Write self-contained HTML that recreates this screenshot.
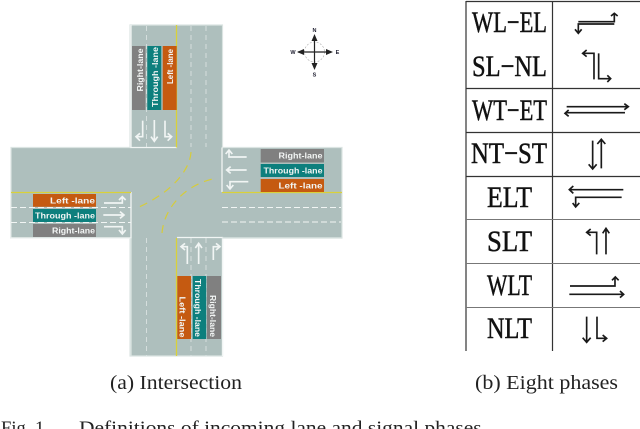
<!DOCTYPE html>
<html><head><meta charset="utf-8"><style>
html,body{margin:0;padding:0;background:#fff}
svg{display:block}
.l{font-family:"Liberation Sans",sans-serif;font-weight:bold;font-size:8.5px;fill:#f2f5f4}
.t{font-family:"Liberation Serif",serif;font-size:30px;fill:#111;stroke:#111;stroke-width:.5}
.c{font-family:"Liberation Serif",serif;font-size:20.5px;fill:#222}
.w{fill:none;stroke:#f1f5f4;stroke-width:5}
.k{fill:none;stroke:#1a1a1a;stroke-width:5}
</style></head><body>
<svg width="640" height="429" viewBox="0 0 640 429" xmlns="http://www.w3.org/2000/svg">
<rect width="640" height="429" fill="#fff"/>
<!-- road -->
<path d="M130 25H222.500V147.500H342V238H222.500V356H130V238H11V147.500H130Z" fill="#aebfbd" stroke="#dbe4e2" stroke-width="1.200"/>
<!-- white edges -->
<g fill="none" stroke="#f1f5f4" stroke-width="1.300">
<path d="M131 25V147.500H177"/>
<path d="M11 238H131V192"/>
<path d="M131 238V356" stroke="#dbe4e2"/>
<path d="M177 237.500H222.500V356"/>
<path d="M222 147.500V192"/>
<path d="M222 238H342" stroke="#dbe4e2"/>
</g>
<!-- dashes -->
<g fill="none" stroke="#dfe7e5" stroke-width="0.800" stroke-dasharray="5 4">
<path d="M146.500 26V147M191 26V147M206 26V147"/>
<path d="M146.500 238V356M191 238V356M206 238V356"/>
</g>
<g fill="none" stroke="#f1f5f4" stroke-width="0.900" stroke-dasharray="6 3">
<path d="M11 207.500H131M11 222.500H131"/>
<path d="M222 207.500H341M222 222H341"/>
</g>
<!-- yellow -->
<g fill="none" stroke="#d9d13a" stroke-width="1.300">
<path d="M176.500 25V147.500M176.500 238V356M11 192.500H131M222 192.500H342"/>
</g>
<g fill="none" stroke="#d6cc3a" stroke-width="1.200" stroke-dasharray="8 6">
<path d="M191 152C190 170 172 192 139 207"/>
<path d="M162 233C164 208 185 184 217 178"/>
</g>
<!-- top arm -->
<rect x="132" y="46" width="13.500" height="64" fill="#808080"/>
<rect x="147.300" y="46" width="14" height="64" fill="#0d7f7d"/>
<rect x="162.700" y="46" width="14" height="64" fill="#c55a11"/>
<text class="l" transform="translate(143 70) rotate(-90)" text-anchor="middle" textLength="43" lengthAdjust="spacingAndGlyphs">Right-lane</text>
<text class="l" transform="translate(158 77) rotate(-90)" text-anchor="middle" textLength="60" lengthAdjust="spacingAndGlyphs">Through -lane</text>
<text class="l" transform="translate(173 66.500) rotate(-90)" text-anchor="middle" textLength="35" lengthAdjust="spacingAndGlyphs">Left -lane</text>
<!-- left arm -->
<rect x="33" y="194" width="63" height="12.800" fill="#c55a11"/>
<rect x="33" y="209" width="63" height="13" fill="#0d7f7d"/>
<rect x="33" y="224" width="63" height="13" fill="#808080"/>
<text class="l" x="95" y="203.500" text-anchor="end" textLength="45" lengthAdjust="spacingAndGlyphs">Left -lane</text>
<text class="l" x="95" y="218.500" text-anchor="end" textLength="60" lengthAdjust="spacingAndGlyphs">Through -lane</text>
<text class="l" x="95" y="233.500" text-anchor="end" textLength="43" lengthAdjust="spacingAndGlyphs">Right-lane</text>
<!-- right arm -->
<rect x="260.700" y="149" width="63.300" height="13.500" fill="#808080"/>
<rect x="260.700" y="164" width="63.300" height="13" fill="#0d7f7d"/>
<rect x="260.700" y="179" width="63.300" height="13" fill="#c55a11"/>
<text class="l" x="322.500" y="158.700" text-anchor="end" textLength="44" lengthAdjust="spacingAndGlyphs">Right-lane</text>
<text class="l" x="322.500" y="173.500" text-anchor="end" textLength="59" lengthAdjust="spacingAndGlyphs">Through -lane</text>
<text class="l" x="322.500" y="188.500" text-anchor="end" textLength="44" lengthAdjust="spacingAndGlyphs">Left -lane</text>
<!-- bottom arm -->
<rect x="177.300" y="276" width="13.700" height="63" fill="#c55a11"/>
<rect x="192.700" y="276" width="13.500" height="63" fill="#0d7f7d"/>
<rect x="207" y="276" width="14" height="63" fill="#808080"/>
<text class="l" transform="translate(179.500 317) rotate(90)" text-anchor="middle" textLength="41" lengthAdjust="spacingAndGlyphs">Left -lane</text>
<text class="l" transform="translate(195 308) rotate(90)" text-anchor="middle" textLength="58" lengthAdjust="spacingAndGlyphs">Through -lane</text>
<text class="l" transform="translate(210 316) rotate(90)" text-anchor="middle" textLength="42" lengthAdjust="spacingAndGlyphs">Right-lane</text>
<!-- road arrows -->
<g transform="translate(120 20) scale(.3333)" class="w">
<path d="M68 302V350H50M60 340L48 350L60 362"/>
<path d="M103 300V362M93 350L103 364L113 350"/>
<path d="M135 302V350H153M143 340L155 350L143 362"/>
</g>
<g transform="translate(120 230) scale(.3333)" class="w">
<path d="M202 102V50H185M195 40L183 50L195 60"/>
<path d="M236 102V42M226 54L236 40L246 54"/>
<path d="M280 90V50H297M288 40L300 50L288 60"/>
</g>
<g transform="translate(0 140) scale(.3333)" class="w">
<path d="M312 189H367V172M357 180L367 170L377 180"/>
<path d="M310 225H370M360 215L372 225L360 235"/>
<path d="M312 260H367V280M357 270L367 282L377 270"/>
</g>
<g transform="translate(170 140) scale(.3333)" class="w">
<path d="M230 51H177V32M167 42L177 30L187 42"/>
<path d="M230 90H172M182 80L170 90L182 100"/>
<path d="M235 125H180V145M170 135L180 147L190 135"/>
</g>
<!-- compass -->
<g stroke="#222" fill="#222">
<circle cx="314.500" cy="52" r="10" fill="none" stroke="#aaa" stroke-width=".6" stroke-dasharray="2 1.500"/>
<path d="M314.500 38V66M298 52H331" stroke-width="1.200"/>
<path d="M314.500 34L311.500 41H317.500ZM314.500 70L311.500 63H317.500ZM297 52L304 49V55ZM333 52L326 49V55Z" stroke="none"/>
</g>
<g font-family="Liberation Sans,sans-serif" font-size="5.500" font-weight="bold" text-anchor="middle" fill="#223">
<text x="314.500" y="32">N</text><text x="314.500" y="76.500">S</text><text x="293" y="54">W</text><text x="337.500" y="54">E</text>
</g>
<!-- table -->
<g fill="none" stroke="#333" stroke-width="1.200">
<path d="M466 1V351M552.500 1V351"/>
<path d="M466 1.500H640M466 88.500H640M466 132.500H640M466 176.500H640"/>
</g>
<g fill="none" stroke="#777" stroke-width="1">
<path d="M466 219.500H640M466 263.500H640M466 307.500H640"/>
</g>
<text class="t" x="472" y="32" textLength="75" lengthAdjust="spacingAndGlyphs">WL−EL</text>
<text class="t" x="472" y="76" textLength="75" lengthAdjust="spacingAndGlyphs">SL−NL</text>
<text class="t" x="472" y="120" textLength="75" lengthAdjust="spacingAndGlyphs">WT−ET</text>
<text class="t" x="471" y="163" textLength="76" lengthAdjust="spacingAndGlyphs">NT−ST</text>
<text class="t" x="487" y="207" textLength="45" lengthAdjust="spacingAndGlyphs">ELT</text>
<text class="t" x="487" y="251" textLength="45" lengthAdjust="spacingAndGlyphs">SLT</text>
<text class="t" x="487" y="295" textLength="45" lengthAdjust="spacingAndGlyphs">WLT</text>
<text class="t" x="487" y="338" textLength="45" lengthAdjust="spacingAndGlyphs">NLT</text>
<!-- phase arrows -->
<g transform="translate(460 0) scale(.3333)" class="k">
<path d="M355 65H463V42M453 48L463 40L473 48"/>
<path d="M463 72H355V98M345 88L355 100L365 88"/>
<path d="M402 238V160H370M380 150L368 160L380 170"/>
<path d="M416 160V236H450M442 226L452 236L442 246"/>
<path d="M320 320H503M493 311L505 320L493 329"/>
<path d="M495 338H318M326 330L315 340L326 349"/>
<path d="M398 422V505M386 493L398 507L410 493"/>
<path d="M424 505V420M412 432L424 418L436 432"/>
</g>
<g transform="translate(460 175) scale(.3333)" class="k">
<path d="M490 44H330M340 33L328 44L340 55"/>
<path d="M485 67H347V93M338 84L347 96L358 84"/>
<path d="M410 238V172H382M392 162L380 172L392 182"/>
<path d="M438 238V165M428 175L438 160L448 175"/>
<path d="M330 333H465V310M456 316L466 306L476 316"/>
<path d="M328 358H490M480 348L491 358L480 368"/>
<path d="M380 425V500M368 488L380 502L392 488"/>
<path d="M411 425V490H438M428 480L440 490L428 500"/>
</g>
<!-- captions -->
<text class="c" x="110" y="389" textLength="132" lengthAdjust="spacingAndGlyphs">(a) Intersection</text>
<text class="c" x="475" y="389" textLength="143" lengthAdjust="spacingAndGlyphs">(b) Eight phases</text>
<text class="c" x="1" y="434" style="font-size:19px" textLength="48" lengthAdjust="spacingAndGlyphs">Fig. 1.</text>
<text class="c" x="79" y="434" style="font-size:19px" textLength="408" lengthAdjust="spacingAndGlyphs">Definitions of incoming lane and signal phases.</text>
</svg>
</body></html>
